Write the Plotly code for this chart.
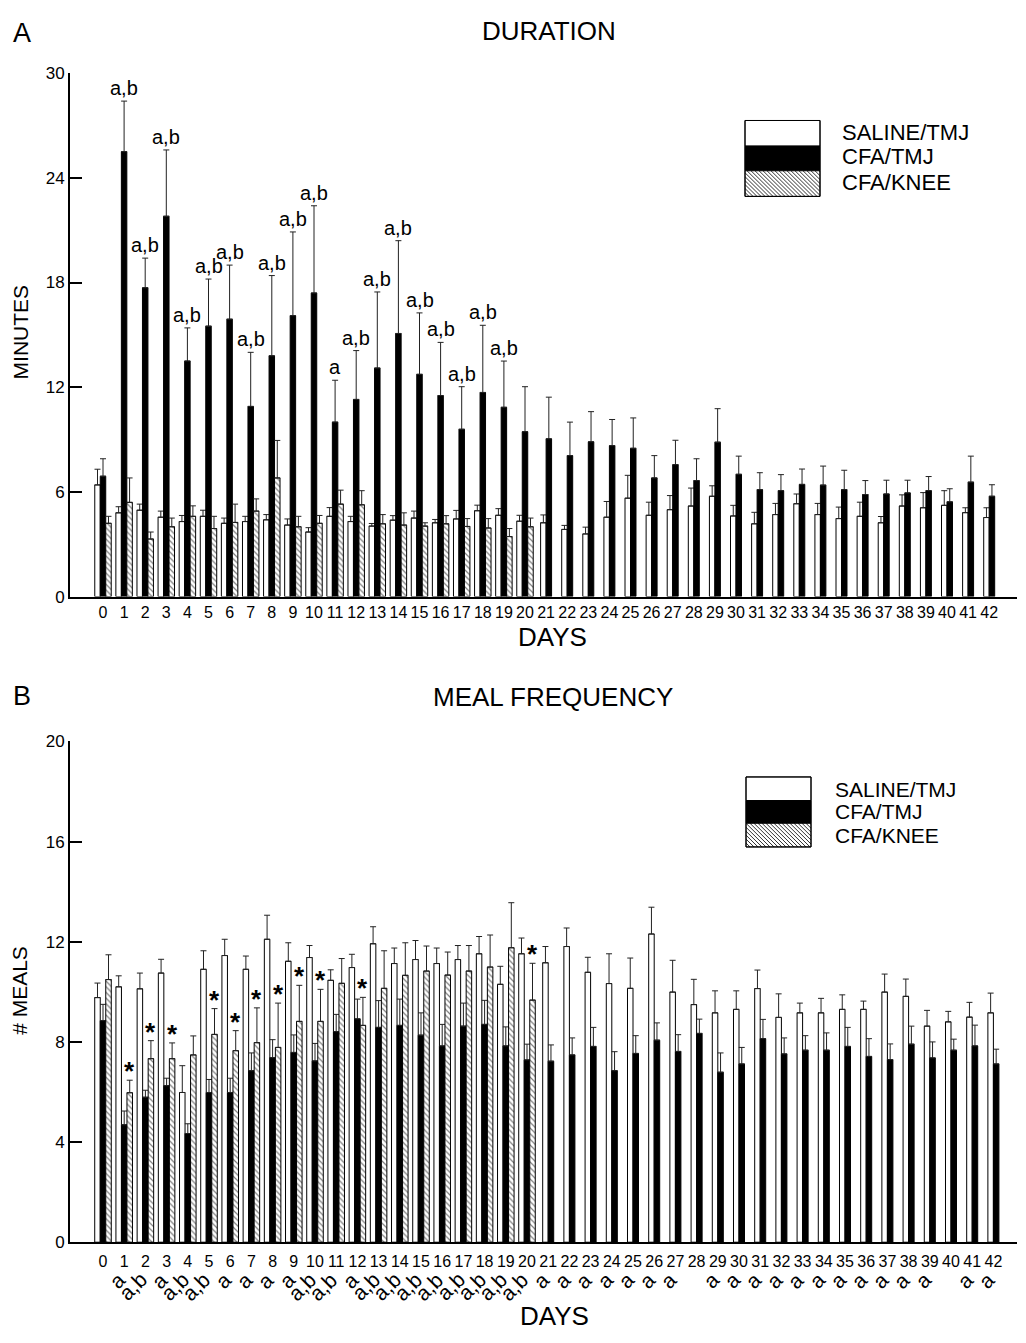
import plotly.graph_objects as go

# ---------------- data ----------------
days = list(range(43))
knee_days = list(range(21))

# Panel A: DURATION (minutes), mean and SEM
dur_saline = [6.4, 4.8, 4.95, 4.55, 4.3, 4.6, 4.2, 4.3, 4.4, 4.1, 3.7, 4.6, 4.3, 4.04, 4.38, 4.5, 4.23, 4.45, 4.92, 4.66, 4.32,
              4.23, 3.85, 3.59, 4.55, 5.64, 4.66, 4.98, 5.19, 5.75, 4.62, 4.17, 4.7, 5.32, 4.7, 4.47, 4.6, 4.23, 5.19, 5.09, 5.23, 4.81, 4.53]
dur_saline_sem = [0.9, 0.35, 0.35, 0.35, 0.35, 0.35, 0.3, 0.3, 0.3, 0.35, 0.25, 0.5, 0.3, 0.15, 0.26, 0.4, 0.19, 0.49, 0.32, 0.38, 0.34,
                  0.45, 0.23, 0.39, 0.9, 1.31, 0.75, 0.81, 1.03, 0.6, 0.61, 0.66, 0.64, 0.56, 0.64, 0.66, 0.81, 0.36, 0.64, 0.87, 0.84, 0.28, 0.56]
dur_cfa_tmj = [6.9, 25.5, 17.7, 21.8, 13.5, 15.5, 15.9, 10.9, 13.8, 16.1, 17.4, 10.0, 11.3, 13.1, 15.08, 12.74, 11.52, 9.59, 11.7, 10.85, 9.45,
               9.04, 8.08, 8.87, 8.65, 8.5, 6.8, 7.56, 6.65, 8.85, 7.01, 6.13, 6.07, 6.43, 6.39, 6.13, 5.85, 5.88, 5.94, 6.07, 5.43, 6.56, 5.75]
dur_cfa_tmj_sem = [1.0, 2.9, 1.7, 3.8, 1.9, 2.7, 3.1, 3.1, 4.6, 4.8, 5.0, 2.4, 2.8, 4.36, 5.32, 3.52, 3.05, 2.44, 3.85, 2.65, 2.58,
                   2.39, 1.92, 1.73, 1.5, 1.74, 1.28, 1.4, 1.25, 1.92, 1.04, 0.97, 0.92, 0.88, 1.09, 1.11, 0.8, 0.79, 0.73, 0.81, 0.75, 1.49, 0.66]
dur_cfa_knee = [4.2, 5.4, 3.3, 4.0, 4.6, 3.9, 4.25, 4.9, 6.8, 4.0, 4.2, 5.3, 5.26, 4.17, 4.1, 4.04, 4.17, 4.02, 3.93, 3.44, 4.0]
dur_cfa_knee_sem = [0.4, 1.4, 0.4, 0.5, 0.6, 0.7, 1.05, 0.7, 2.15, 0.6, 0.45, 0.8, 0.81, 0.53, 0.7, 0.19, 0.47, 0.45, 0.54, 0.46, 0.5]

# Panel B: MEAL FREQUENCY (# meals), mean and SEM
meal_saline = [9.77, 10.2, 10.12, 10.75, 5.98, 10.9, 11.45, 10.9, 12.1, 11.22, 11.37, 10.46, 10.97, 11.92, 11.13, 11.29, 11.13, 11.29, 11.52, 10.3, 11.52,
               11.16, 11.81, 10.78, 10.33, 10.14, 12.31, 9.99, 9.49, 9.16, 9.3, 10.13, 8.98, 9.16, 9.16, 9.3, 9.3, 9.99, 9.82, 8.63, 8.8, 8.99, 9.16]
meal_saline_sem = [0.58, 0.44, 0.63, 0.55, 1.07, 0.74, 0.65, 0.53, 0.96, 0.74, 0.48, 0.42, 0.53, 0.68, 0.62, 0.76, 0.62, 0.56, 0.69, 0.72, 0.63,
                   0.65, 0.74, 0.6, 1.19, 1.21, 1.07, 1.27, 1.01, 0.88, 0.74, 0.74, 0.94, 0.39, 0.58, 0.58, 0.33, 0.72, 0.69, 0.63, 0.42, 0.59, 0.79]
meal_cfa_tmj = [8.85, 4.69, 5.79, 6.25, 4.34, 5.98, 5.98, 6.85, 7.37, 7.58, 7.24, 8.41, 8.92, 8.58, 8.66, 8.27, 7.84, 8.63, 8.7, 7.84, 7.28,
                7.23, 7.48, 7.82, 6.85, 7.54, 8.07, 7.62, 8.34, 6.79, 7.12, 8.13, 7.52, 7.67, 7.67, 7.82, 7.42, 7.29, 7.91, 7.36, 7.67, 7.84, 7.12]
meal_cfa_tmj_sem = [0.65, 0.55, 0.28, 0.3, 0.39, 0.52, 0.57, 0.71, 0.72, 0.7, 0.7, 0.69, 0.79, 1.07, 1.05, 0.89, 0.86, 0.92, 0.96, 0.76, 0.63,
                    0.65, 0.68, 0.76, 0.76, 0.71, 0.69, 0.67, 0.57, 0.77, 0.66, 0.77, 0.64, 0.58, 0.69, 0.76, 0.71, 0.63, 0.72, 0.64, 0.44, 0.83, 0.59]
meal_cfa_knee = [10.49, 5.97, 7.33, 7.33, 7.48, 8.3, 7.65, 7.97, 7.78, 8.82, 8.82, 10.34, 8.66, 10.14, 10.66, 10.83, 10.67, 10.83, 10.99, 11.76, 9.67]
meal_cfa_knee_sem = [0.99, 0.5, 0.72, 0.63, 0.76, 1.03, 0.8, 1.39, 1.77, 1.44, 1.28, 0.99, 1.12, 1.5, 1.3, 1.0, 0.92, 1.02, 1.28, 1.8, 1.47]

# significance marks
dur_sig = {d: "a,b" for d in list(range(1, 11)) + list(range(12, 20))}
dur_sig[11] = "a"
meal_star_days = [1, 2, 3, 5, 6, 7, 8, 9, 10, 12, 20]
meal_sig = {1: "a", 2: "a,b", 3: "a", 4: "a,b", 5: "a,b", 6: "a", 7: "a", 8: "a", 9: "a",
            10: "a,b", 11: "a,b", 12: "a"}
for d in range(13, 21):
    meal_sig[d] = "a,b"
for d in list(range(21, 28)) + list(range(29, 40)) + [41, 42]:
    meal_sig[d] = "a"

group_names = ["SALINE/TMJ", "CFA/TMJ", "CFA/KNEE"]

# ---------------- layout helpers ----------------
PAGE_M = 8                       # default body margin of the html page
W, H = 1026 - 2 * PAGE_M, 1343 - 2 * PAGE_M
FONT = "Liberation Sans, Arial, Helvetica, sans-serif"


def px(x):
    return (x - PAGE_M) / W


def py(y):
    return 1 - (y - PAGE_M) / H


X_LEFT, X_RIGHT = 70, 1017
A_DAY0, A_STEP = 103, 21.1
B_DAY0, B_STEP = 103, 21.2
BW = 0.26  # bar width in day units

fig = go.Figure()

ERR = dict(thickness=1, width=3, color="#222")


def add_panel(xa, ya, sal, sal_sem, tmj, tmj_sem, knee, knee_sem, bw):
    n = len(days)
    off_sal = [-1.5 * bw if d <= 20 else -1.0 * bw for d in days]
    off_tmj = [-0.5 * bw if d <= 20 else 0.0 for d in days]
    fig.add_trace(go.Bar(
        x=days, y=sal, offset=off_sal, width=bw, xaxis=xa, yaxis=ya,
        marker=dict(color="white", line=dict(color="black", width=1)),
        error_y=dict(type="data", symmetric=False, array=sal_sem, arrayminus=[0] * n, **ERR),
        name=group_names[0], showlegend=False))
    fig.add_trace(go.Bar(
        x=days, y=tmj, offset=off_tmj, width=bw, xaxis=xa, yaxis=ya,
        marker=dict(color="black", line=dict(color="black", width=1)),
        error_y=dict(type="data", symmetric=False, array=tmj_sem, arrayminus=[0] * n, **ERR),
        name=group_names[1], showlegend=False))
    fig.add_trace(go.Bar(
        x=knee_days, y=knee, offset=0.5 * bw, width=bw, xaxis=xa, yaxis=ya,
        marker=dict(color="white", line=dict(color="black", width=1),
                    pattern=dict(shape="\\", fgcolor="black", bgcolor="white", size=4, solidity=0.3)),
        error_y=dict(type="data", symmetric=False, array=knee_sem, arrayminus=[0] * len(knee_days), **ERR),
        name=group_names[2], showlegend=False))


add_panel("x", "y", dur_saline, dur_saline_sem, dur_cfa_tmj, dur_cfa_tmj_sem, dur_cfa_knee, dur_cfa_knee_sem, BW)
add_panel("x2", "y2", meal_saline, meal_saline_sem, meal_cfa_tmj, meal_cfa_tmj_sem, meal_cfa_knee, meal_cfa_knee_sem, BW)

xcommon = dict(tickmode="array", tickvals=days, ticktext=[str(d) for d in days], ticks="",
               showline=True, linecolor="black", linewidth=2, showgrid=False, zeroline=False,
               tickfont=dict(family=FONT, size=16, color="black"), fixedrange=True)
ycommon = dict(ticks="inside", ticklen=12, tickwidth=2, tickcolor="black", showline=True,
               linecolor="black", linewidth=2, showgrid=False, zeroline=False,
               tickfont=dict(family=FONT, size=17, color="black"), fixedrange=True)

fig.update_layout(
    width=W, height=H, margin=dict(l=0, r=0, t=0, b=0),
    paper_bgcolor="white", plot_bgcolor="white", barmode="overlay",
    font=dict(family=FONT, color="black"),
    xaxis=dict(domain=[px(X_LEFT), px(X_RIGHT)],
               range=[(X_LEFT - A_DAY0) / A_STEP, (X_RIGHT - A_DAY0) / A_STEP], anchor="y", **xcommon),
    yaxis=dict(domain=[py(596), py(65)], range=[0, 30], tickvals=[0, 6, 12, 18, 24, 30], anchor="x", **ycommon),
    xaxis2=dict(domain=[px(X_LEFT), px(X_RIGHT)], ticklabelstandoff=4,
                range=[(X_LEFT - B_DAY0) / B_STEP, (X_RIGHT - B_DAY0) / B_STEP], anchor="y2", **xcommon),
    yaxis2=dict(domain=[py(1251), py(743)], range=[0, 20], tickvals=[0, 4, 8, 12, 16, 20], anchor="x2", **ycommon),
)

ann = []


def text(x, y, s, size, xanchor="center", yanchor="middle", **kw):
    d = dict(x=px(x), y=py(y), xref="paper", yref="paper", text=s, showarrow=False,
             xanchor=xanchor, yanchor=yanchor,
             font=dict(family=FONT, size=size, color="black"))
    d.update(kw)
    ann.append(d)


# titles and labels
text(22, 24, "A", 27)
text(22, 697, "B", 27)
text(549, 22, "DURATION", 26)
text(553, 698, "MEAL FREQUENCY", 26)
text(552, 637, "DAYS", 26)
text(554, 1326, "DAYS", 26)
text(20, 328, "MINUTES", 21, textangle=-90)
text(20, 996, "# MEALS", 21, textangle=-90)

# significance letters panel A (above CFA/TMJ error bars)
for d, s in dur_sig.items():
    ann.append(dict(x=d, y=dur_cfa_tmj[d] + dur_cfa_tmj_sem[d], xref="x", yref="y", text=s,
                    showarrow=False, xanchor="center", yanchor="bottom", yshift=0,
                    font=dict(family=FONT, size=20, color="black")))

# stars panel B (above CFA/KNEE error bars)
for d in meal_star_days:
    ann.append(dict(x=d + BW, y=meal_cfa_knee[d] + meal_cfa_knee_sem[d], xref="x2", yref="y2", text="<b>*</b>",
                    showarrow=False, xanchor="center", yanchor="bottom", yshift=-8,
                    font=dict(family=FONT, size=26, color="black")))

# rotated letters under panel B day labels
for d, s in meal_sig.items():
    ann.append(dict(x=d, y=py(1274), xref="x2", yref="paper", text=s, showarrow=False,
                    textangle=-45, xanchor="right", yanchor="top", xshift=8,
                    font=dict(family=FONT, size=21, color="black")))

# legends
shapes = []


def legend(x0, x1, ys, tx, tys, size):
    fills = ["white", "black", "white"]
    for i in range(3):
        shapes.append(dict(type="rect", xref="paper", yref="paper", x0=px(x0), x1=px(x1),
                           y0=py(ys[i + 1]), y1=py(ys[i]), fillcolor=fills[i],
                           line=dict(color="black", width=1)))
    # hatch lines in the third box (top-left to bottom-right)
    y0, y1 = ys[2], ys[3]
    h = y1 - y0
    path = ""
    k = x0 - h
    while k < x1:
        ax, ay = k, y0
        bx, by = k + h, y1
        if ax < x0:
            ay = y0 + (x0 - ax)
            ax = x0
        if bx > x1:
            by = y1 - (bx - x1)
            bx = x1
        if bx > ax:
            path += f"M{px(ax)},{py(ay)} L{px(bx)},{py(by)} "
        k += 4
    shapes.append(dict(type="path", xref="paper", yref="paper", path=path,
                       line=dict(color="black", width=0.8)))
    shapes.append(dict(type="rect", xref="paper", yref="paper", x0=px(x0), x1=px(x1),
                       y0=py(ys[3]), y1=py(ys[0]), line=dict(color="black", width=1)))
    for name, ty in zip(group_names, tys):
        text(tx, ty, name, size, xanchor="left")


legend(745, 820, [113, 139, 164, 190], 840, [125, 150, 176], 22)
legend(746, 811, [779, 803, 826, 850], 833, [792, 814, 838], 21)

fig.update_layout(annotations=ann, shapes=shapes)
fig.write_html("out.html")
